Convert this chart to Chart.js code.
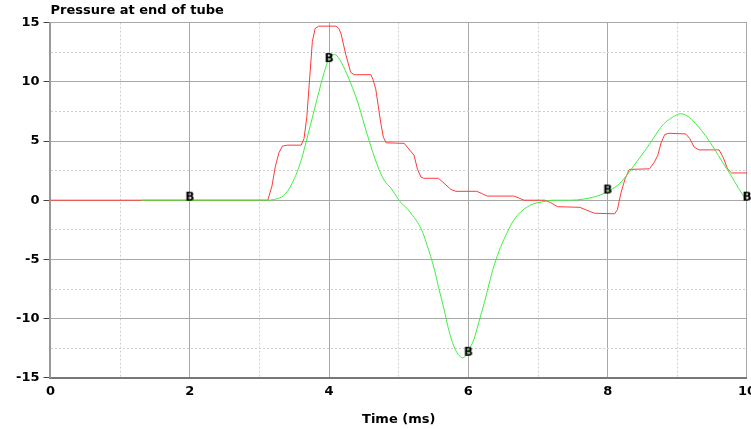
<!DOCTYPE html>
<html>
<head>
<meta charset="utf-8">
<script src="https://cdn.jsdelivr.net/npm/chart.js@4.4.1/dist/chart.umd.min.js"></script>
<style>
  html, body { margin: 0; padding: 0; background: #fff; overflow: hidden; }
  #wrap { width: 762px; height: 429px; }
</style>
</head>
<body>
<div id="wrap"><canvas id="grafico"></canvas></div>
<script>
// red trace: time (ms) and pressure
const timeRed = [0, 3.12, 3.18, 3.23, 3.28, 3.33, 3.4, 3.6, 3.64, 3.68, 3.71, 3.76, 3.8, 3.85, 4.1, 4.14, 4.17, 4.24, 4.31, 4.36,
  4.6, 4.63, 4.67, 4.74, 4.78, 4.82, 5.08, 5.12, 5.22, 5.27, 5.32, 5.36, 5.57, 5.62, 5.75, 5.82, 6.12, 6.2, 6.27, 6.65,
  6.72, 6.8, 7.1, 7.18, 7.28, 7.6, 7.7, 7.81, 8.1, 8.14, 8.19, 8.25, 8.31, 8.6, 8.67, 8.72, 8.77, 8.82, 8.88, 9.12,
  9.18, 9.24, 9.31, 9.6, 9.66, 9.72, 9.78, 10];
const pressureRed = [0, 0, 1.2, 2.9, 4.0, 4.57, 4.65, 4.65, 5.2, 7.0, 9.4, 13.4, 14.5, 14.7, 14.7, 14.5, 14.1, 12.3, 10.8, 10.6,
  10.6, 10.2, 9.4, 6.6, 5.3, 4.85, 4.8, 4.5, 3.8, 2.6, 1.95, 1.85, 1.85, 1.6, 0.9, 0.75, 0.75, 0.55, 0.35, 0.35,
  0.2, 0, 0, -0.2, -0.55, -0.6, -0.85, -1.1, -1.15, -0.8, 0.6, 1.8, 2.6, 2.65, 3.2, 3.8, 4.9, 5.55, 5.65, 5.6,
  5.2, 4.5, 4.25, 4.25, 3.6, 2.65, 2.3, 2.3];

// green trace
const timeGreen = [1.31, 3.1, 3.2, 3.35, 3.45, 3.59, 3.7, 3.83, 3.93, 4.02, 4.08, 4.15, 4.26, 4.41, 4.55, 4.69, 4.79, 4.89, 5.03, 5.12,
  5.2, 5.27, 5.35, 5.41, 5.51, 5.57, 5.65, 5.72, 5.79, 5.85, 5.92, 5.98, 6.03, 6.08, 6.15, 6.23, 6.3, 6.37, 6.46, 6.56,
  6.65, 6.75, 6.85, 6.94, 7.05, 7.14, 7.2, 7.47, 7.66, 7.9, 8.0, 8.14, 8.26, 8.38, 8.5, 8.62, 8.72, 8.81, 8.93, 9.05,
  9.17, 9.29, 9.41, 9.53, 9.65, 9.77, 9.88, 9.99];
const pressureGreen = [0, 0, 0.05, 0.4, 1.2, 3.2, 5.6, 8.6, 10.8, 12.2, 12.3, 11.9, 10.6, 8.3, 5.5, 3.0, 1.7, 1.0, -0.2, -0.7,
  -1.3, -1.86, -2.8, -3.84, -5.8, -7.3, -9.2, -11, -12.3, -13.0, -13.3, -13.0, -12.4, -11.75, -10.3, -8.64, -7.0, -5.5, -4.0, -2.7,
  -1.7, -1.0, -0.55, -0.3, -0.15, -0.05, 0, 0, 0.1, 0.45, 0.75, 1.24, 2.0, 2.94, 3.9, 4.9, 5.8, 6.47, 7.0, 7.3,
  7.0, 6.3, 5.4, 4.35, 3.2, 2.1, 1.0, 0];

// "B" markers
const markerTime = [2, 4, 6, 8, 10];
const markerPressure = [0.3, 12.0, -12.8, 0.9, 0.3];

// axis ticks
const xTicks = [0, 2, 4, 6, 8, 10];
const yTicks = [-15, -10, -5, 0, 5, 10, 15];

function pts(xs, ys) {
    return xs.map((x, i) => ({ x: x, y: ys[i] }));
}

// small canvas with a "B" used as point style
const bMark = document.createElement('canvas');
bMark.width = 12;
bMark.height = 14;
const bctx = bMark.getContext('2d');
bctx.font = 'bold 12px "DejaVu Sans"';
bctx.fillStyle = '#000';
bctx.textAlign = 'center';
bctx.textBaseline = 'middle';
bctx.fillText('B', 6, 7.5);

const majorColor = '#a8a8a8';
const minorColor = '#d0d0d0';
const labelFont = { family: 'DejaVu Sans', size: 13, weight: 'bold' };

const ctx = document.getElementById('grafico').getContext('2d');

new Chart(ctx, {
    type: 'scatter',
    data: {
        datasets: [
            {
                label: 'red',
                data: pts(timeRed, pressureRed),
                showLine: true,
                borderColor: '#ff3a3a',
                borderWidth: 1,
                pointRadius: 0,
                tension: 0,
                order: 2
            },
            {
                label: 'green',
                data: pts(timeGreen, pressureGreen),
                showLine: true,
                borderColor: '#3cf03c',
                borderWidth: 1,
                pointRadius: 0,
                cubicInterpolationMode: 'monotone',
                order: 1
            },
            {
                label: 'B',
                data: pts(markerTime, markerPressure),
                showLine: false,
                pointStyle: bMark,
                pointRadius: 6,
                order: 0
            }
        ]
    },
    options: {
        responsive: true,
        maintainAspectRatio: false,
        animation: false,
        clip: false,
        layout: { padding: { left: 12, right: 0, top: 0, bottom: 2 } },
        scales: {
            x: {
                type: 'linear',
                min: 0,
                max: 10,
                ticks: {
                    stepSize: 1,
                    color: '#000',
                    font: labelFont,
                    padding: 6,
                    maxRotation: 0,
                    callback: v => xTicks.includes(v) ? String(v) : ''
                },
                grid: {
                    color: c => (c.tick && c.tick.value % 2 !== 0) ? minorColor : majorColor,
                    drawTicks: false
                },
                border: {
                    color: '#777',
                    width: 2,
                    dash: c => (c.tick && c.tick.value % 2 !== 0) ? [2, 2] : []
                },
                title: {
                    display: true,
                    text: 'Time (ms)',
                    color: '#000',
                    font: labelFont,
                    padding: { top: 6, bottom: 0 }
                }
            },
            y: {
                min: -15,
                max: 15,
                ticks: {
                    stepSize: 2.5,
                    color: '#000',
                    font: labelFont,
                    padding: 4,
                    callback: v => yTicks.includes(v) ? String(v) : ''
                },
                grid: {
                    color: c => (c.tick && c.tick.value % 5 !== 0) ? minorColor : majorColor,
                    tickLength: 7,
                    tickColor: c => (c.tick && c.tick.value % 5 !== 0) ? 'rgba(0,0,0,0)' : '#444'
                },
                border: {
                    color: '#999',
                    width: 2,
                    dash: c => (c.tick && c.tick.value % 5 !== 0) ? [2, 2] : []
                }
            }
        },
        plugins: {
            legend: { display: false },
            tooltip: { enabled: false },
            title: {
                display: true,
                text: 'Pressure at end of tube',
                align: 'start',
                fullSize: false,
                color: '#000',
                font: labelFont,
                padding: { top: 3, bottom: 4 }
            }
        }
    }
});
</script>
</body>
</html>
